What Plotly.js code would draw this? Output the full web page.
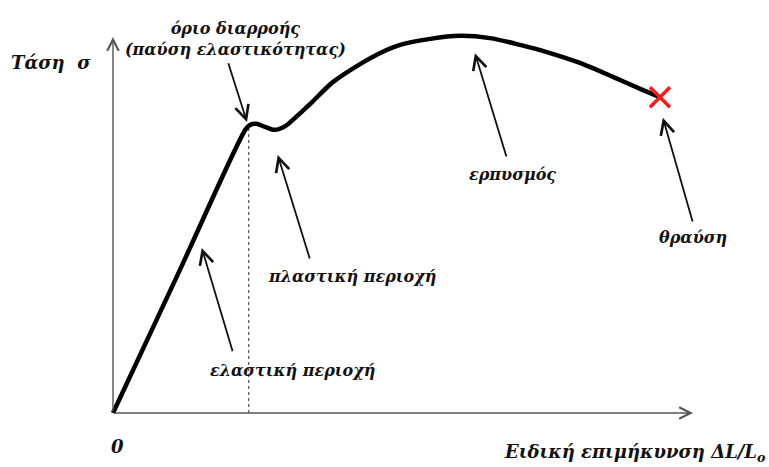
<!DOCTYPE html>
<html>
<head>
<meta charset="utf-8">
<script src="https://cdn.plot.ly/plotly-3.0.1.min.js"></script>
<style>html,body{margin:0;padding:0;background:#fff;}#chart{width:769px;height:467px;}</style>
</head>
<body>
<div id="chart"></div>
<script>
// Stress–strain curve (arbitrary units: strain 0..100, stress 0..100)
const strain = [0, 11.4, 22.8, 23.6, 24.7, 26.2, 27.9, 29.7, 31.4, 34.0, 37.9, 42.6, 46.0, 49.5, 54.7, 59.8, 65.0, 70.2, 74.8, 80.5, 86.2, 90.9, 94.3];
const stress = [0, 37.6, 75.3, 76.6, 76.9, 76.1, 75.3, 76.3, 78.5, 82.2, 88.0, 92.8, 95.7, 97.9, 99.5, 100.3, 99.7, 97.9, 96.0, 93.1, 89.4, 86.2, 84.0];
const yieldStrain = 23.4, yieldStress = 75.8;
const fracture = {x: 94.3, y: 84.0};
const axisEnds = {x: 100, y: 100};

// Labels with arrow
const labelText = ["όριο διαρροής<br>(παύση ελαστικότητας)", "πλαστική περιοχή", "ελαστική περιοχή", "ερπυσμός", "θραύση"];
const labelPos = [[21.2, 99.4], [41.2, 36.2], [30.9, 11.4], [68.8, 63.3], [100, 46.8]];
const arrowTail = [[19.8, 93.4], [34.0, 40.7], [20.7, 16.0], [67.9, 67.8], [100, 50.5]];
const arrowHead = [[23.1, 77.4], [28.4, 68.6], [15.3, 43.9], [62.4, 95.7], [94.8, 78.5]];

const fnt = {family: "DejaVu Serif", size: 16, color: "#111", weight: 700, style: "italic"};
const traces = [
  {x: [yieldStrain, yieldStrain], y: [0, yieldStress], mode: "lines", line: {color: "#333", width: 1, dash: "3px,3px"}, hoverinfo: "skip"},
  {x: strain, y: stress, mode: "lines", line: {color: "#000", width: 4.5, shape: "spline", smoothing: 0.8}, hoverinfo: "skip"},
  {x: [fracture.x], y: [fracture.y], mode: "markers", marker: {symbol: "x-thin", size: 20, line: {color: "#ff1a1a", width: 3.5}}, hoverinfo: "skip"}
];

const ann = [];
// axes with arrows
ann.push({x: 0, y: axisEnds.y, ax: 0, ay: 0, xref: "x", yref: "y", axref: "x", ayref: "y", showarrow: true, arrowhead: 5, arrowsize: 1.6, arrowwidth: 1.4, arrowcolor: "#555", text: ""});
ann.push({x: axisEnds.x, y: 0, ax: 0, ay: 0, xref: "x", yref: "y", axref: "x", ayref: "y", showarrow: true, arrowhead: 5, arrowsize: 1.6, arrowwidth: 1.4, arrowcolor: "#555", text: ""});
for (let i = 0; i < labelText.length; i++) {
  ann.push({x: arrowHead[i][0], y: arrowHead[i][1], ax: arrowTail[i][0], ay: arrowTail[i][1], xref: "x", yref: "y", axref: "x", ayref: "y", showarrow: true, arrowhead: 5, arrowsize: 1.5, arrowwidth: 1.8, arrowcolor: "#111", text: ""});
  ann.push({x: labelPos[i][0], y: labelPos[i][1], xref: "x", yref: "y", showarrow: false, text: labelText[i], font: fnt, align: "center"});
}
ann.push({x: -10.7, y: 93.1, xref: "x", yref: "y", showarrow: false, text: "Τάση  σ", font: Object.assign({}, fnt, {size: 18})});
ann.push({x: 0.7, y: -9.0, xref: "x", yref: "y", showarrow: false, text: "0", font: Object.assign({}, fnt, {size: 18})});
ann.push({x: 112.8, y: -10.6, xref: "x", yref: "y", xanchor: "right", showarrow: false, text: "Ειδική επιμήκυνση ΔL/L<sub>o</sub>", font: Object.assign({}, fnt, {size: 18})});

const layout = {
  width: 769, height: 467,
  margin: {l: 0, r: 0, t: 0, b: 0},
  paper_bgcolor: "#fff", plot_bgcolor: "#fff",
  showlegend: false,
  xaxis: {range: [-19.48, 113.1], visible: false, fixedrange: true},
  yaxis: {range: [-14.36, 109.84], visible: false, fixedrange: true},
  annotations: ann
};
Plotly.newPlot("chart", traces, layout, {staticPlot: true});
</script>
</body>
</html>
